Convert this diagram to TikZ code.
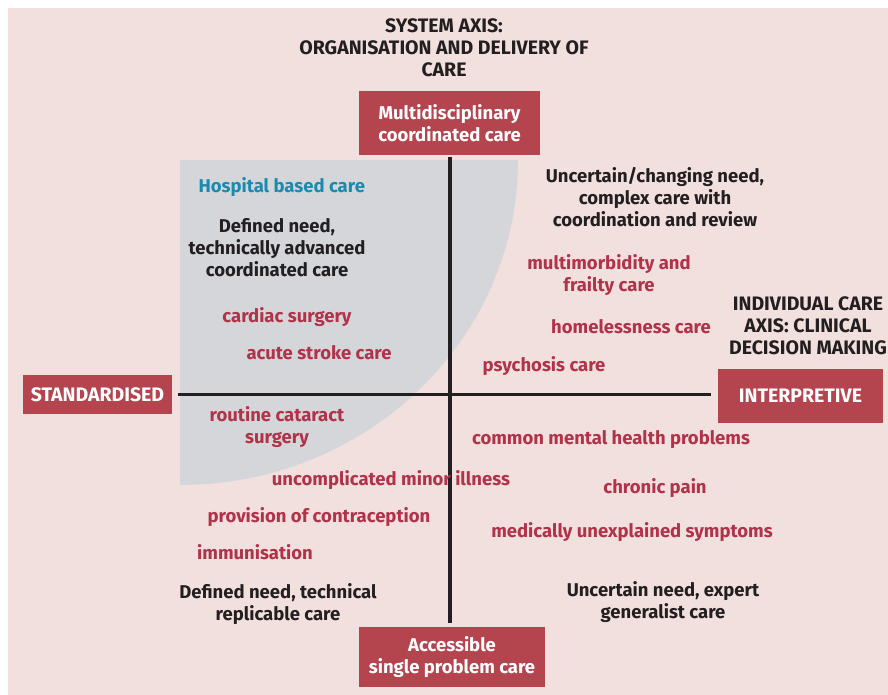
\documentclass[tikz,border=0pt]{standalone}
\usepackage{fontspec}
\setmainfont{Fira Sans}
\definecolor{bgpink}{HTML}{F2E0DF}
\definecolor{greyzone}{HTML}{D5D6DA}
\definecolor{boxred}{HTML}{B4454F}
\definecolor{itemred}{HTML}{B0334A}
\definecolor{hospblue}{HTML}{1A8AB0}
\definecolor{darktext}{HTML}{231F20}
\begin{document}
\begin{tikzpicture}[x=1pt,y=-1pt,
  font=\bfseries\fontsize{18.5}{22}\selectfont,
  caps/.style={font=\bfseries\fontsize{19.5}{22}\selectfont},
  axisbox/.style={fill=boxred, text=white, align=center, inner sep=0pt},
  condition/.style={text=itemred, align=center},
  need/.style={text=darktext, align=center},
  axisline/.style={draw=darktext, line width=3.5pt}]
\useasboundingbox (0,0) rectangle (888,695);
\fill[white] (0,0) rectangle (888,695);
\fill[bgpink] (8,8) rectangle (888,695);
\fill[greyzone] (180,160) -- (518,160) arc[start angle=0, end angle=90, x radius=338, y radius=325] -- cycle;

% axis titles
\node[need, caps] (sysaxis) at (444,48) {SYSTEM AXIS:\\ORGANISATION AND DELIVERY OF\\CARE};
\node[need, caps] (indaxis) at (808,326) {INDIVIDUAL CARE\\AXIS: CLINICAL\\DECISION MAKING};

% axis ends
\node[axisbox, minimum width=181pt, minimum height=64pt] (multi) at (449.5,123) {Multidisciplinary\\coordinated care};
\node[axisbox, minimum width=186pt, minimum height=60pt] (access) at (452,657) {Accessible\\single problem care};
\node[axisbox, caps, minimum width=149pt, minimum height=39pt] (std) at (97.5,394.5) {STANDARDISED};
\node[axisbox, caps, minimum width=165pt, minimum height=54pt] (interp) at (800.5,396) {INTERPRETIVE};

\path[axisline, shorten <=2pt, shorten >=4pt] (multi.south -| 450,0) -- (access.north -| 450,0);
\path[axisline, shorten <=6pt, shorten >=7pt] (std.east) -- (std.east -| interp.west);

% top left
\node[anchor=west, text=hospblue] (hospital) at (195,187) {Hospital based care};
\node[need] (defadv) at (277,248) {Defined need,\\technically advanced\\coordinated care};
\node[condition] (cardiac) at (287,317) {cardiac surgery};
\node[condition] (stroke) at (319,353) {acute stroke care};

% top right
\node[need] (uncchg) at (655,197) {Uncertain/changing need,\\complex care with\\coordination and review};
\node[condition] (multimorb) at (609,275) {multimorbidity and\\frailty care};
\node[condition] (homeless) at (631,327) {homelessness care};
\node[condition] (psych) at (544,366) {psychosis care};

% bottom left
\node[condition] (cataract) at (277,427.5) {routine cataract\\surgery};
\node[condition] (minor) at (391,480) {uncomplicated minor illness};
\node[condition] (contra) at (319,517) {provision of contraception};
\node[condition] (immun) at (255,552) {immunisation};
\node[need] (defrep) at (278,604.5) {Defined need, technical\\replicable care};

% bottom right
\node[condition] (cmh) at (611,440) {common mental health problems};
\node[condition] (pain) at (655,488) {chronic pain};
\node[condition] (mus) at (632,532) {medically unexplained symptoms};
\node[need] (uncexp) at (663,602) {Uncertain need, expert\\generalist care};
\end{tikzpicture}
\end{document}
